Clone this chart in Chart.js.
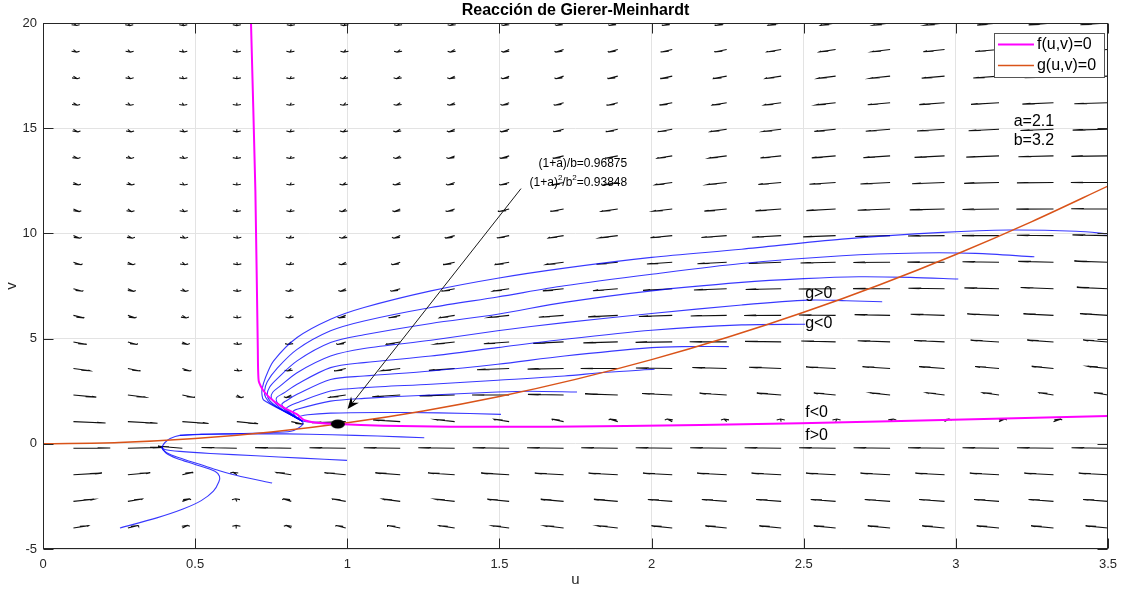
<!DOCTYPE html>
<html>
<head>
<meta charset="utf-8">
<script src="https://cdn.jsdelivr.net/npm/chart.js@4.4.0/dist/chart.umd.min.js"></script>
<style>
  html, body { margin: 0; padding: 0; background: #fff; }
  #phase { display: block; }
</style>
</head>
<body>
<canvas id="phase" width="1125" height="592"></canvas>
<script>
// Gierer-Meinhardt parameters and the stationary point
const a = 2.1;
const b = 3.2;
const eqU = 0.96875;
const eqV = 0.93848;

// direction field grid
const uGrid = [0.1, 0.279, 0.458, 0.637, 0.816, 0.995, 1.174, 1.353, 1.532, 1.711,
               1.889, 2.068, 2.247, 2.426, 2.605, 2.784, 2.963, 3.142, 3.321, 3.5];
const vGrid = [-4, -2.737, -1.474, -0.211, 1.053, 2.316, 3.579, 4.842, 6.105, 7.368,
               8.632, 9.895, 11.158, 12.421, 13.684, 14.947, 16.211, 17.474, 18.737, 20];

// arrow direction in degrees, one row per vGrid value, one column per uGrid value
const arrowAngle = [
  [66, 74, 82, 91, 98, 105, 110, 115, 118, 121, 123, 124, 125, 126, 126, 127, 127, 127, 127, 127],
  [57, 67, 79, 92, 102, 111, 118, 122, 126, 128, 130, 131, 132, 132, 132, 133, 133, 132, 132, 132],
  [40, 53, 74, 96, 114, 125, 132, 136, 139, 141, 142, 142, 143, 143, 143, 143, 142, 142, 142, 142],
  [7, 19, 131, 162, 167, 168, 169, 169, 170, 170, 170, 170, 170, 170, 170, 170, 170, 170, 170, 169],
  [-30, -37, -45, -55, -72, -156, 137, 122, 114, 108, 102, 98, 94, 91, 88, 85, 83, 81, 79, 77],
  [-52, -61, -71, -83, -98, -116, -139, -161, 179, 164, 152, 144, 137, 131, 126, 122, 119, 116, 113, 111],
  [-63, -71, -78, -87, -96, -107, -120, -134, -150, -166, 180, 168, 158, 150, 143, 138, 133, 130, 126, 123],
  [-70, -76, -82, -88, -95, -103, -112, -122, -133, -145, -158, -171, 177, 167, 158, 151, 145, 140, 135, 132],
  [-74, -79, -84, -89, -94, -100, -107, -114, -123, -132, -143, -154, -166, -177, 172, 163, 156, 149, 144, 139],
  [-76, -81, -85, -89, -94, -98, -104, -110, -116, -124, -132, -142, -152, -163, -174, 176, 167, 159, 152, 147],
  [-78, -82, -86, -89, -93, -97, -102, -107, -112, -118, -125, -133, -142, -151, -161, -172, 179, 170, 162, 155],
  [-80, -83, -86, -89, -93, -96, -100, -104, -109, -114, -120, -126, -133, -142, -151, -160, -170, 180, 171, 163],
  [-81, -84, -87, -90, -92, -96, -99, -102, -106, -111, -116, -121, -127, -134, -142, -151, -160, -170, -179, 172],
  [-82, -84, -87, -90, -92, -95, -98, -101, -104, -108, -112, -117, -122, -128, -135, -143, -151, -160, -170, -179],
  [-83, -85, -87, -90, -92, -95, -97, -100, -103, -106, -110, -114, -119, -124, -130, -136, -144, -152, -161, -170],
  [-83, -85, -87, -90, -92, -94, -97, -99, -102, -105, -108, -112, -116, -120, -125, -131, -138, -145, -153, -162],
  [-84, -86, -88, -90, -92, -94, -96, -98, -101, -104, -106, -110, -113, -117, -122, -127, -133, -139, -147, -155],
  [-84, -86, -88, -90, -92, -94, -96, -98, -100, -102, -105, -108, -111, -115, -119, -123, -128, -134, -141, -148],
  [-85, -86, -88, -90, -92, -93, -95, -97, -99, -102, -104, -107, -109, -113, -116, -120, -125, -130, -136, -142],
  [-85, -87, -88, -90, -91, -93, -95, -97, -99, -101, -103, -105, -108, -111, -114, -118, -122, -126, -132, -138]
];

// nullclines
const nullF = [[0.6836, 20], [0.698, 12.0], [0.706, 4.5], [0.709, 2.98], [0.725, 2.51], [0.758, 2.03],
               [0.80, 1.65], [0.835, 1.40], [0.857, 1.14], [0.90, 1.0], [0.969, 0.938], [1.12, 0.86],
               [1.34, 0.81], [1.67, 0.81], [2.16, 0.89], [2.82, 1.08], [3.5, 1.32]];
const nullG = [[0, 0], [0.25, 0.0625], [0.5, 0.25], [0.75, 0.5625], [1, 1], [1.25, 1.5625], [1.5, 2.25],
               [1.75, 3.0625], [2, 4], [2.25, 5.0625], [2.5, 6.25], [2.75, 7.5625], [3, 9],
               [3.25, 10.5625], [3.5, 12.25]];

// trajectories
const trajA = [[3.509, 9.97], [3.395, 10.10], [3.175, 10.16], [2.956, 10.05], [2.626, 9.73], [2.296, 9.25],
               [2.0, 8.86], [1.714, 8.35], [1.494, 7.87], [1.275, 7.27], [1.055, 6.48], [0.945, 5.92],
               [0.835, 5.05], [0.758, 3.94], [0.731, 3.14], [0.72, 2.6], [0.72, 2.3], [0.725, 2.08],
               [0.79, 1.56], [0.852, 1.08]];
const trajB = [[3.258, 8.89], [3.065, 9.05], [2.879, 9.07], [2.626, 8.94], [2.296, 8.57], [2.0, 8.06],
               [1.714, 7.51], [1.494, 6.98], [1.275, 6.48], [1.055, 5.84], [0.945, 5.37], [0.835, 4.49],
               [0.77, 3.6], [0.737, 2.95], [0.728, 2.5], [0.732, 2.2], [0.75, 1.9], [0.852, 1.08]];
const trajC = [[3.008, 7.83], [2.85, 7.91], [2.681, 7.94], [2.5, 7.85], [2.296, 7.67], [2.0, 7.27],
               [1.714, 6.72], [1.494, 6.16], [1.275, 5.72], [1.055, 5.18], [0.945, 4.81], [0.835, 3.94],
               [0.77, 3.1], [0.745, 2.7], [0.737, 2.35], [0.745, 2.05], [0.77, 1.75], [0.852, 1.08]];
const trajD = [[2.758, 6.75], [2.64, 6.80], [2.516, 6.83], [2.296, 6.60], [2.0, 6.19], [1.714, 5.76],
               [1.494, 5.37], [1.275, 4.92], [1.055, 4.53], [0.945, 4.17], [0.835, 3.38], [0.78, 2.75],
               [0.755, 2.45], [0.75, 2.19], [0.765, 1.9], [0.79, 1.6], [0.852, 1.08]];
const trajE = [[2.505, 5.68], [2.296, 5.65], [2.0, 5.40], [1.714, 4.97], [1.494, 4.57], [1.275, 4.17],
               [1.055, 3.86], [0.945, 3.62], [0.835, 2.83], [0.79, 2.4], [0.768, 2.2], [0.768, 2.0],
               [0.785, 1.75], [0.81, 1.45], [0.852, 1.08]];
const trajF = [[2.254, 4.62], [2.1, 4.62], [2.0, 4.57], [1.714, 4.17], [1.494, 3.78], [1.275, 3.46],
               [1.055, 3.22], [0.945, 3.06], [0.835, 2.35], [0.80, 2.05], [0.785, 1.87], [0.80, 1.6],
               [0.825, 1.3], [0.852, 1.08]];
const trajG = [[2.01, 3.54], [1.85, 3.40], [1.714, 3.22], [1.494, 3.02], [1.275, 2.83], [1.055, 2.67],
               [0.945, 2.51], [0.835, 1.95], [0.81, 1.8], [0.80, 1.68], [0.815, 1.45], [0.852, 1.08]];
const trajH = [[1.755, 2.46], [1.6, 2.50], [1.494, 2.46], [1.275, 2.32], [1.055, 2.16], [0.945, 2.03],
               [0.835, 1.64], [0.822, 1.52], [0.83, 1.3], [0.852, 1.08]];
const trajI = [[1.505, 1.40], [1.3, 1.47], [1.1, 1.49], [0.945, 1.46], [0.87, 1.38], [0.84, 1.27],
               [0.852, 1.08], [0.90, 1.02], [0.969, 0.938]];
const trajJ = [[1.253, 0.287], [1.10, 0.37], [0.95, 0.43], [0.80, 0.47], [0.65, 0.47], [0.52, 0.44], [0.45, 0.40]];
const trajK = [[0.999, -0.79], [0.85, -0.68], [0.70, -0.57], [0.55, -0.46], [0.45, -0.36], [0.40, -0.27], [0.39, -0.17]];
const trajL = [[0.753, -1.86], [0.65, -1.55], [0.58, -1.28], [0.52, -1.0], [0.46, -0.72], [0.415, -0.48],
               [0.395, -0.3], [0.39, -0.17]];
const trajM = [[0.253, -4.0], [0.374, -3.52], [0.46, -3.1], [0.52, -2.7], [0.56, -2.25], [0.578, -1.8],
               [0.58, -1.54], [0.565, -1.3], [0.50, -0.98], [0.44, -0.7], [0.405, -0.45], [0.39, -0.17]];
const trajP = [[0.39, -0.17], [0.40, 0.05], [0.418, 0.25], [0.45, 0.40], [0.52, 0.46], [0.65, 0.49],
               [0.75, 0.53], [0.815, 0.60], [0.84, 0.75], [0.855, 0.95], [0.852, 1.08]];
const trajectories = [trajA, trajB, trajC, trajD, trajE, trajF, trajG, trajH, trajI, trajJ, trajK, trajL, trajM, trajP];

const FONT = '"Liberation Sans", Arial, Helvetica, sans-serif';
const AXIS_COLOR = '#262626';
const ARROW_LEN = 0.122;      // quiver arrow length, axis units
const HEAD_A = 0.33, HEAD_B = 0.33;

// quiver segments: shaft + two head strokes, separated by gaps
function quiverPoints() {
  const pts = [];
  vGrid.forEach((v, j) => {
    uGrid.forEach((u, i) => {
      const t = arrowAngle[j][i] * Math.PI / 180;
      const du = ARROW_LEN * Math.cos(t);
      const dv = ARROW_LEN * Math.sin(t);
      const tu = u + du, tv = v + dv;
      pts.push({x: u, y: v}, {x: tu, y: tv}, {x: tu, y: null});
      pts.push({x: tu - HEAD_A * (du + HEAD_B * dv), y: tv - HEAD_A * (dv - HEAD_B * du)},
               {x: tu, y: tv},
               {x: tu - HEAD_A * (du - HEAD_B * dv), y: tv - HEAD_A * (dv + HEAD_B * du)},
               {x: tu, y: null});
    });
  });
  return pts;
}

function curve(points, color, width, order, tension) {
  return {
    data: points.map(p => ({x: p[0], y: p[1]})),
    showLine: true,
    borderColor: color,
    borderWidth: width,
    pointRadius: 0,
    tension: tension,
    order: order,
    spanGaps: false
  };
}

// filled marker for the stationary point
const dot = document.createElement('canvas');
dot.width = 16; dot.height = 12;
(function () {
  const c = dot.getContext('2d');
  c.fillStyle = '#000';
  c.beginPath();
  c.ellipse(8, 6, 7, 4.6, 0, 0, Math.PI * 2);
  c.fill();
})();

function label(ctx, text, x, y, size, align, weight, color) {
  ctx.font = (weight || 'normal') + ' ' + size + 'px ' + FONT;
  ctx.fillStyle = color || '#000';
  ctx.textAlign = align || 'left';
  ctx.textBaseline = 'middle';
  ctx.fillText(text, x, y);
}

// text with superscript pieces, right aligned at x
function richRight(ctx, parts, x, y, size) {
  const supSize = Math.round(size * 0.7);
  let w = 0;
  parts.forEach(p => {
    ctx.font = (p.sup ? supSize : size) + 'px ' + FONT;
    w += ctx.measureText(p.t).width;
  });
  let cx = x - w;
  ctx.fillStyle = '#000';
  ctx.textAlign = 'left';
  ctx.textBaseline = 'middle';
  parts.forEach(p => {
    ctx.font = (p.sup ? supSize : size) + 'px ' + FONT;
    ctx.fillText(p.t, cx, p.sup ? y - 4 : y);
    cx += ctx.measureText(p.t).width;
  });
}

const decorations = {
  id: 'decorations',
  afterDraw(chart) {
    const ctx = chart.ctx;
    const area = chart.chartArea;
    const sx = chart.scales.x, sy = chart.scales.y;
    const X = u => sx.getPixelForValue(u);
    const Y = v => sy.getPixelForValue(v);
    ctx.save();

    // axes box and inward ticks
    ctx.strokeStyle = AXIS_COLOR;
    ctx.lineWidth = 1;
    const L = Math.round(area.left) + 0.5, R = Math.round(area.right) - 0.5;
    const T = Math.round(area.top) + 0.5, B = Math.round(area.bottom) - 0.5;
    ctx.strokeRect(L, T, R - L, B - T);
    ctx.beginPath();
    sx.ticks.forEach(t => {
      const x = Math.round(X(t.value)) + 0.5;
      ctx.moveTo(x, B); ctx.lineTo(x, B - 10);
      ctx.moveTo(x, T); ctx.lineTo(x, T + 10);
    });
    sy.ticks.forEach(t => {
      const y = Math.round(Y(t.value)) + 0.5;
      ctx.moveTo(L, y); ctx.lineTo(L + 10, y);
      ctx.moveTo(R, y); ctx.lineTo(R - 10, y);
    });
    ctx.stroke();

    // title and axis names
    label(ctx, 'Reacción de Gierer-Meinhardt', (area.left + area.right) / 2, 11, 16, 'center', 'bold');
    label(ctx, 'u', (area.left + area.right) / 2, 580, 15, 'center', 'normal', AXIS_COLOR);
    ctx.save();
    ctx.translate(12, (area.top + area.bottom) / 2);
    ctx.rotate(-Math.PI / 2);
    label(ctx, 'v', 0, 0, 15, 'center', 'normal', AXIS_COLOR);
    ctx.restore();

    // parameter and region labels
    label(ctx, 'a=' + a, X(3.19), Y(15.33), 16);
    label(ctx, 'b=' + b, X(3.19), Y(14.39), 16);
    label(ctx, 'g>0', X(2.505), Y(7.13), 16);
    label(ctx, 'g<0', X(2.505), Y(5.69), 16);
    label(ctx, 'f<0', X(2.505), Y(1.48), 16);
    label(ctx, 'f>0', X(2.505), Y(0.41), 16);

    // stationary point annotation
    richRight(ctx, [{t: '(1+a)/b=' + eqU}], X(1.92), Y(13.30), 12);
    richRight(ctx, [{t: '(1+a)'}, {t: '2', sup: true}, {t: '/b'}, {t: '2', sup: true}, {t: '=' + eqV}],
              X(1.92), Y(12.43), 12);
    const x0 = X(1.571), y0 = Y(12.13), x1 = X(1.001), y1 = Y(1.65);
    const ang = Math.atan2(y1 - y0, x1 - x0);
    ctx.strokeStyle = '#1a1a1a';
    ctx.lineWidth = 1;
    ctx.beginPath();
    ctx.moveTo(x0, y0);
    ctx.lineTo(x1 - 8 * Math.cos(ang), y1 - 8 * Math.sin(ang));
    ctx.stroke();
    ctx.translate(x1, y1);
    ctx.rotate(ang);
    ctx.fillStyle = '#000';
    ctx.beginPath();
    ctx.moveTo(0, 0);
    ctx.lineTo(-12, -5);
    ctx.lineTo(-8, 0);
    ctx.lineTo(-12, 5);
    ctx.closePath();
    ctx.fill();
    ctx.setTransform(1, 0, 0, 1, 0, 0);

    // legend
    const lx = area.right - 114, ly = area.top + 10, lw = 110, lh = 44;
    ctx.fillStyle = '#fff';
    ctx.fillRect(lx, ly, lw, lh);
    ctx.strokeStyle = '#555';
    ctx.lineWidth = 1;
    ctx.strokeRect(Math.round(lx) + 0.5, Math.round(ly) + 0.5, lw, lh);
    const entries = [['f(u,v)=0', '#ff00ff', 2], ['g(u,v)=0', '#d95319', 1.5]];
    entries.forEach((e, k) => {
      const yy = ly + 11.5 + k * 21;
      ctx.strokeStyle = e[1];
      ctx.lineWidth = e[2];
      ctx.beginPath();
      ctx.moveTo(lx + 4, yy); ctx.lineTo(lx + 40, yy);
      ctx.stroke();
      label(ctx, e[0], lx + 43, yy, 16);
    });
    ctx.restore();
  }
};

new Chart(document.getElementById('phase'), {
  type: 'scatter',
  data: {
    datasets: [
      {data: [{x: eqU, y: eqV}], pointStyle: dot, pointRadius: 7, order: 0},
      curve(nullF, '#ff00ff', 2, 1, 0.2),
      Object.assign(curve(nullG, '#d95319', 1.5, 2, 0), {cubicInterpolationMode: 'monotone'}),
      ...trajectories.map(t => curve(t, 'rgba(0, 0, 255, 0.78)', 1.1, 3, 0.3)),
      {data: quiverPoints(), showLine: true, borderColor: '#111', borderWidth: 1.1,
       pointRadius: 0, spanGaps: false, order: 10}
    ]
  },
  options: {
    responsive: false,
    animation: false,
    devicePixelRatio: 1,
    events: [],
    layout: {padding: {top: 23, right: 17, left: 0, bottom: 0}},
    plugins: {legend: {display: false}, tooltip: {enabled: false}, title: {display: false}},
    scales: {
      x: {
        type: 'linear', min: 0, max: 3.5,
        ticks: {stepSize: 0.5, color: AXIS_COLOR, font: {family: FONT, size: 13}, padding: 8, maxRotation: 0,
                callback: value => String(Math.round(value * 10) / 10)},
        grid: {color: '#e3e3e3', drawTicks: false},
        border: {display: false},
        afterFit(scale) { scale.height = 43; }
      },
      y: {
        type: 'linear', min: -5, max: 20,
        ticks: {stepSize: 5, color: AXIS_COLOR, font: {family: FONT, size: 13}, padding: 6},
        grid: {color: '#e3e3e3', drawTicks: false},
        border: {display: false},
        afterFit(scale) { scale.height = scale.height; scale.width = 43; }
      }
    }
  },
  plugins: [decorations]
});
</script>
</body>
</html>
